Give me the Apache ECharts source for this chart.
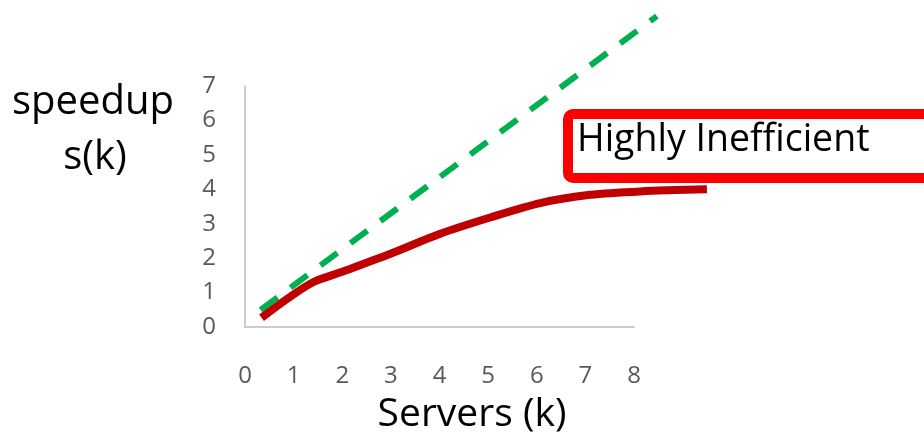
<!DOCTYPE html>
<html>
<head>
<meta charset="utf-8">
<script src="https://cdn.jsdelivr.net/npm/echarts@6/dist/echarts.min.js"></script>
<style>
  html, body { margin: 0; padding: 0; background: #ffffff; }
  #chart { width: 924px; height: 442px; }
</style>
</head>
<body>
<div id="chart"></div>
<script>
// Axis ranges and tick labels
const xTicks = [0, 1, 2, 3, 4, 5, 6, 7, 8];
const yTicks = [0, 1, 2, 3, 4, 5, 6, 7];

// Ideal (linear) speedup, dashed green
const idealSpeedup = [
  [0.32, 0.5],
  [8.47, 9.03]
];

// Measured speedup s(k), red curve flattening out
const actualSpeedup = [
  [0.34, 0.27],
  [0.9, 0.85],
  [1.4, 1.3],
  [1.95, 1.58],
  [2.98, 2.12],
  [4.0, 2.7],
  [5.04, 3.18],
  [6.07, 3.6],
  [7.1, 3.84],
  [8.13, 3.94],
  [9.5, 4.0]
];

const FONT = '"Open Sans", "Noto Sans", sans-serif';

// Plot geometry: visible axes span 0..8 (x) and 0..7 (y); the curves run past
// both ends, so they sit on a second, wider grid with the same scale per unit.
const LEFT = 245, BOTTOM = 115;
const AX_W = 389, AX_H = 241;
const xMax = xTicks[xTicks.length - 1], yMax = yTicks[yTicks.length - 1];
const pxX = AX_W / xMax, pxY = AX_H / yMax;
const xMaxWide = 10, yMaxWide = 9.5;

const chart = echarts.init(document.getElementById('chart'), null, { renderer: 'canvas' });

chart.setOption({
  animation: false,
  backgroundColor: '#ffffff',
  grid: [
    { left: LEFT, bottom: BOTTOM, width: AX_W, height: AX_H, containLabel: false },
    { left: LEFT, bottom: BOTTOM, width: xMaxWide * pxX, height: yMaxWide * pxY, containLabel: false }
  ],
  xAxis: [
    {
      type: 'value', gridIndex: 0,
      min: xTicks[0], max: xMax, interval: 1,
      axisLine: { show: true, onZero: false, lineStyle: { color: '#cdcdcd', width: 2 } },
      axisTick: { show: false },
      splitLine: { show: false },
      axisLabel: { color: '#595959', fontSize: 24, fontFamily: FONT, margin: 37 }
    },
    {
      type: 'value', gridIndex: 1, min: 0, max: xMaxWide, show: false
    }
  ],
  yAxis: [
    {
      type: 'value', gridIndex: 0,
      min: yTicks[0], max: yMax, interval: 1,
      axisLine: { show: true, onZero: false, lineStyle: { color: '#cdcdcd', width: 2 } },
      axisTick: { show: false },
      splitLine: { show: false },
      axisLabel: { color: '#595959', fontSize: 24, fontFamily: FONT, margin: 29 }
    },
    {
      type: 'value', gridIndex: 1, min: 0, max: yMaxWide, show: false
    }
  ],
  series: [
    {
      type: 'line',
      name: 'ideal',
      xAxisIndex: 1, yAxisIndex: 1,
      data: idealSpeedup,
      clip: false,
      showSymbol: false,
      symbol: 'none',
      lineStyle: { color: '#00b050', width: 6, type: [21, 16.3], cap: 'butt' },
      z: 2
    },
    {
      type: 'line',
      name: 's(k)',
      xAxisIndex: 1, yAxisIndex: 1,
      data: actualSpeedup,
      clip: false,
      smooth: 0.3,
      showSymbol: false,
      symbol: 'none',
      lineStyle: { color: '#c00000', width: 8, cap: 'butt' },
      z: 3
    }
  ],
  graphic: [
    {
      type: 'rect',
      shape: { x: 568, y: 114, width: 420, height: 64, r: 5 },
      style: { fill: '#ffffff', stroke: '#ff0000', lineWidth: 10 },
      z: 10
    },
    {
      type: 'text',
      x: 577, y: 140,
      style: { text: 'Highly Inefficient', font: '37.5px ' + FONT, fill: '#000000', align: 'left', verticalAlign: 'middle' },
      z: 11
    },
    {
      type: 'text',
      x: 93, y: 103,
      style: { text: 'speedup', font: '40px ' + FONT, fill: '#000000', align: 'center', verticalAlign: 'middle' },
      z: 11
    },
    {
      type: 'text',
      x: 95, y: 158,
      style: { text: 's(k)', font: '40px ' + FONT, fill: '#000000', align: 'center', verticalAlign: 'middle' },
      z: 11
    },
    {
      type: 'text',
      x: 472, y: 415,
      style: { text: 'Servers (k)', font: '39px ' + FONT, fill: '#000000', align: 'center', verticalAlign: 'middle' },
      z: 11
    }
  ]
});
</script>
</body>
</html>
